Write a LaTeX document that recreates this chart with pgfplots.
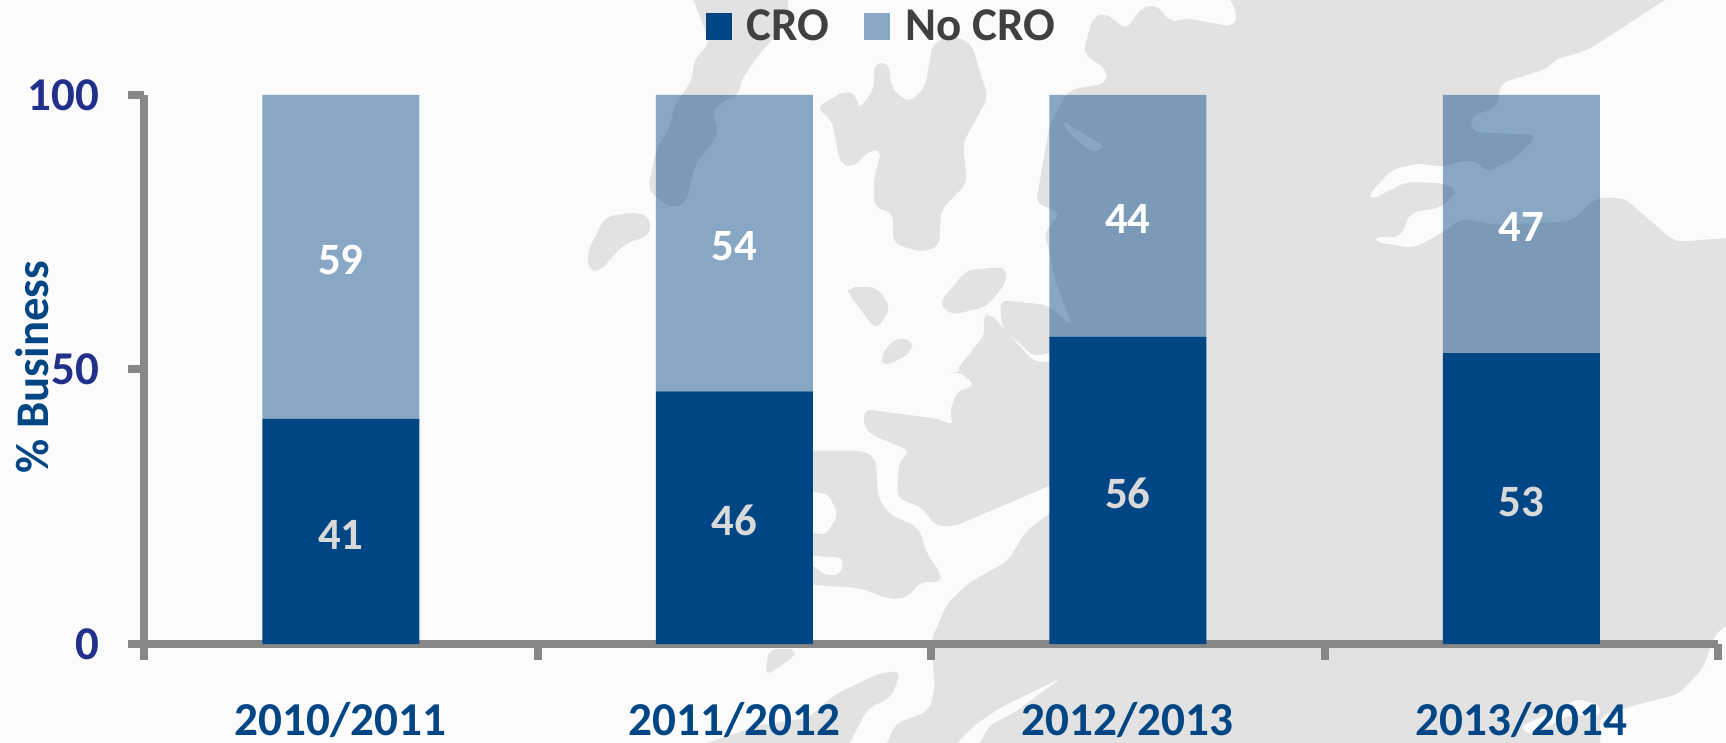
\documentclass[border=0pt]{standalone}
\usepackage{fontspec}
\setmainfont{Carlito}
\usepackage{pgfplots}
\pgfplotsset{compat=1.18}
\definecolor{bgc}{HTML}{FBFBFB}
\definecolor{mapc}{HTML}{E2E2E2}
\definecolor{barc}{HTML}{004685}
\definecolor{axc}{HTML}{878787}
\definecolor{tickc}{HTML}{21308A}
\pgfplotstableread{
x cro nocro
0 41 59
1 46 54
2 56 44
3 53 47
}\datatable
\begin{document}
\begin{tikzpicture}
\useasboundingbox (0pt,0pt) rectangle (863pt,-371.5pt);
\fill[bgc] (0pt,0pt) rectangle (863pt,-371.5pt);
\begin{scope}[x=0.5pt,y=-0.5pt]
\clip (0,0) rectangle (1726,743);
\begin{scope}[rounded corners=4pt]
% north-west slivers and islands
\fill[mapc] (690,-10)--(710,43)--(694,60)--(692,80)--(674,107)--(670,127)--(656,150)--(648,190)--(670,208)--(686,203)--(694,167)--(719,133)--(712,113)--(721,102)--(739,95)--(741,80)--(757,57)--(789,20)--(787,-10)--cycle;
\fill[mapc] (587,253)--(605,217)--(634,212)--(650,217)--(650,235)--(623,245)--(599,272)--(589,270)--cycle;
\fill[mapc] (816,108)--(846,90)--(858,97)--(858,110)--(874,90)--(874,63)--(889,63)--(891,88)--(909,103)--(925,87)--(933,43)--(951,35)--(971,43)--(988,97)--(963,143)--(967,183)--(941,210)--(939,247)--(919,252)--(893,243)--(893,213)--(874,207)--(874,177)--(882,150)--(870,150)--(852,168)--(840,163)--(832,120)--cycle;
\fill[mapc] (848,287)--(876,287)--(891,307)--(876,330)--(848,293)--cycle;
\fill[mapc] (880,357)--(895,338)--(913,340)--(911,353)--(884,367)--cycle;
\fill[mapc] (939,303)--(967,270)--(1006,267)--(1006,283)--(986,307)--(951,315)--cycle;
% main land mass
\fill[mapc] (1093,17)--(1106,13)--(1126,30)--(1142,7)--(1157,5)--(1171,23)--(1185,18)--(1233,27)--(1238,15)--(1225,-10)--(1680,-10)--(1588,50)--(1553,60)--(1549,68)--(1501,83)--(1497,107)--(1470,117)--(1472,132)--(1537,135)--(1517,157)--(1486,173)--(1480,163)--(1466,160)--(1442,167)--(1418,163)--(1391,170)--(1367,197)--(1371,200)--(1406,182)--(1442,183)--(1458,190)--(1442,207)--(1410,213)--(1401,237)--(1373,237)--(1375,242)--(1414,248)--(1442,233)--(1462,218)--(1494,225)--(1561,222)--(1573,220)--(1596,198)--(1624,198)--(1675,242)--(1740,237)--(1740,615)--(1715,634)--(1703,668)--(1679,694)--(1632,706)--(1600,716)--(1600,760)--(880,760)--(895,724)--(929,711)--(935,688)--(931,641)--(947,604)--(967,584)--(1008,561)--(1026,531)--(1049,514)--(1060,505)--(1060,482)--(1049,486)--(955,526)--(935,526)--(923,508)--(897,498)--(899,461)--(911,451)--(874,436)--(864,428)--(864,409)--(939,419)--(955,426)--(949,414)--(957,391)--(976,386)--(959,371)--(955,372)--(986,333)--(982,317)--(990,313)--(1034,362)--(1060,362)--(1060,350)--(1034,357)--(1002,327)--(1000,300)--(1048,305)--(1073,327)--(1054,277)--(1050,253)--(1044,233)--(1061,213)--(1036,203)--(1050,123)--(1069,90)--(1107,83)--(1107,70)--(1083,53)--cycle;
% central island
\fill[mapc] (780,451)--(864,451)--(876,459)--(878,498)--(889,514)--(919,528)--(927,554)--(941,574)--(941,583)--(921,581)--(907,598)--(889,599)--(860,588)--(780,583)--cycle;
% south-west pieces
\fill[mapc] (769,649)--(797,649)--(793,658)--(765,676)--cycle;
\fill[mapc] (901,671)--(880,673)--(836,694)--(808,718)--(760,725)--(686,750)--(846,750)--(868,708)--(891,698)--cycle;
\end{scope}
% pale notches in the land
\fill[bgc,rounded corners=3pt] (800,490)--(828,494)--(838,514)--(826,535)--(800,530)--cycle;
\fill[bgc,rounded corners=3pt] (800,555)--(844,558)--(840,575)--(825,575)--cycle;
\fill[bgc,rounded corners=3pt] (1061,120)--(1105,147)--(1093,153)--(1069,133)--cycle;
\fill[bgc,rounded corners=3pt] (1061,678)--(1000,708)--(975,725)--(950,750)--(975,750)--(990,725)--(1015,712)--cycle;
\fill[bgc,rounded corners=3pt] (1520,727)--(1560,708)--(1577,699)--(1600,705)--(1600,716)--(1570,715)--(1530,735)--cycle;
\end{scope}
\begin{axis}[
  at={(72pt,-322pt)}, anchor=south west,
  scale only axis, width=787pt, height=274.5pt,
  clip=false,
  ybar stacked, bar width=78.5pt,
  xmin=-0.5, xmax=3.5, ymin=0, ymax=100,
  axis x line=bottom, axis y line=left,
  axis line style={-, draw=axc, line width=4pt},
  tick align=outside,
  xtick={0,1,2,3},
  xticklabels={2010/2011,2011/2012,2012/2013,2013/2014},
  minor xtick={-0.5,0.5,1.5,2.5,3.5},
  major x tick style={draw=none},
  minor tick length=8pt,
  minor x tick style={draw=axc, line width=4pt},
  ytick={0,50,100}, yticklabels={0,50,100},
  major tick length=7.75pt,
  y tick style={draw=axc, line width=4pt},
  xticklabel style={font=\fontsize{23.6}{26}\selectfont\bfseries, text=barc, yshift=-18pt},
  yticklabel style={font=\fontsize{23.5}{26}\selectfont\bfseries, text=tickc, xshift=-11pt},
  ylabel={\% Business},
  every axis y label/.style={at={(rel axis cs:0,0.5)}, rotate=90, anchor=center, xshift=1.25pt, yshift=56pt,
    font=\fontsize{23.4}{26}\selectfont\bfseries, text=barc},
  legend columns=2,
  legend style={at={(280.8pt,308.5pt)}, anchor=west, draw=none, fill=none, inner sep=0pt, outer sep=0pt,
    font=\fontsize{23.5}{26}\selectfont\bfseries, text=black!75,
    /tikz/every even column/.style={column sep=17.5pt},
    nodes={inner sep=0pt, anchor=west}},
  legend image code/.code={\fill[#1] (0pt,-6.75pt) rectangle (13pt,6.75pt); \path (20.5pt,0pt);},
  legend cell align=left,
  nodes near coords,
  /pgf/number format/assume math mode=true,
  every node near coord/.append style={font=\fontsize{22.4}{26}\selectfont\bfseries, anchor=center, yshift=-1.5pt},
  point meta=explicit,
]
\addplot[fill=barc, draw=none, every node near coord/.append style={text=black!15}] table[x=x, y=cro, meta=cro] {\datatable};
\addplot[fill=barc, fill opacity=0.46, draw=none, every node near coord/.append style={text=white, text opacity=1}] table[x=x, y=nocro, meta=nocro] {\datatable};
\addlegendentry{CRO}
\addlegendentry{No CRO}
\end{axis}
\end{tikzpicture}
\end{document}
